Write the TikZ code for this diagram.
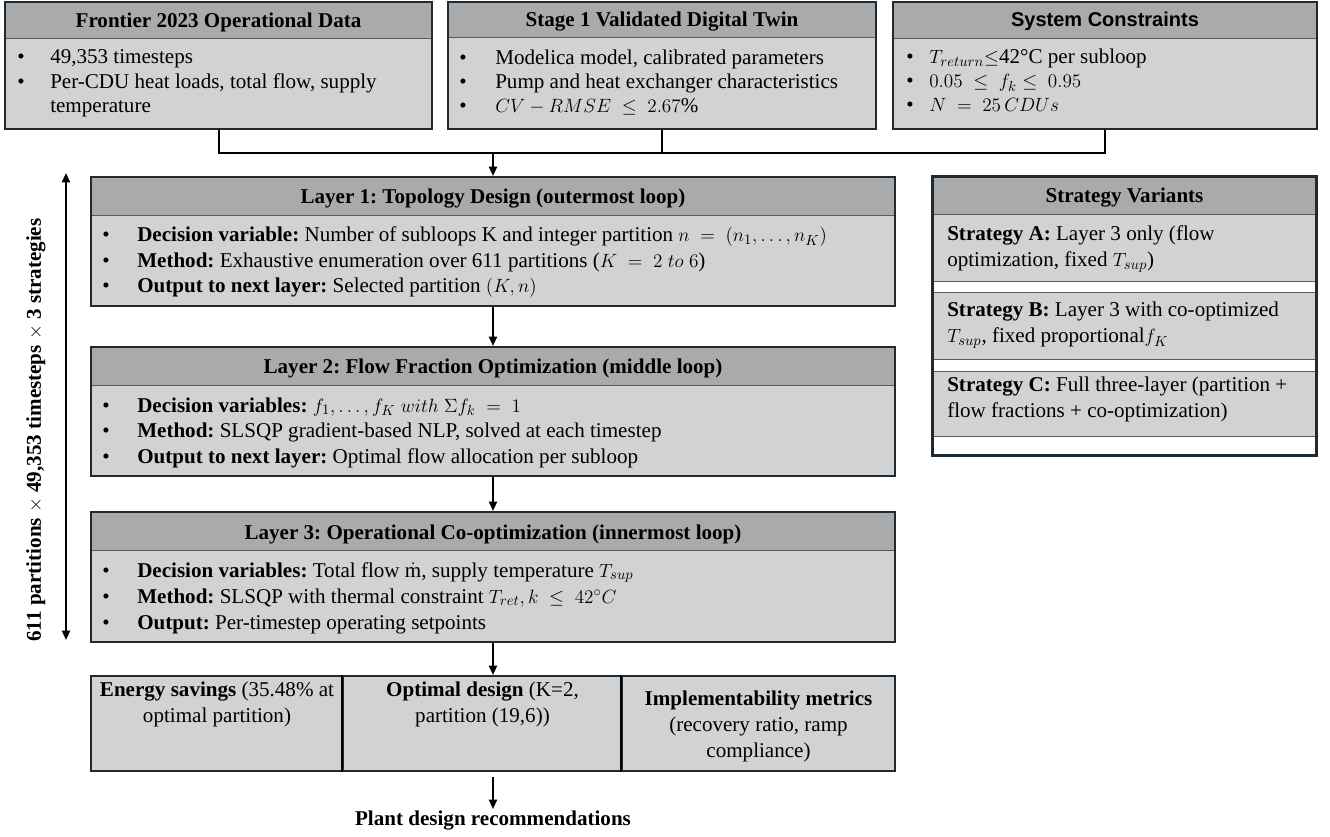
\documentclass[tikz,border=0pt]{standalone}
\usepackage{fontspec}
\setmainfont{Liberation Serif}
\newfontfamily\sansf{Liberation Sans}
\usetikzlibrary{arrows.meta,fit}
\definecolor{hdr}{RGB}{170,170,170}
\definecolor{bdy}{RGB}{210,210,210}
\definecolor{brd}{RGB}{30,42,54}
\definecolor{sepc}{RGB}{90,90,90}
\frenchspacing
\newcommand\bodysz{\fontsize{15.8}{18.5}\selectfont}
\tikzset{
  bodyst/.style={fill=bdy, draw=brd, line width=1.5pt, inner sep=0pt},
  headst/.style={fill=hdr, inner sep=0pt},
  titlest/.style={inner sep=0pt, anchor=base, font=\bodysz\bfseries},
  sepline/.style={draw=sepc, line width=0.8pt},
  conn/.style={draw=black, line width=1.5pt},
  arr/.style={conn, -{Triangle[length=7pt,width=6pt]}},
  txt/.style={inner sep=0pt, anchor=base west},
  bul/.style={inner sep=0pt, anchor=base},
  ctr/.style={inner sep=0pt, anchor=base},
}
\begin{document}
\begin{tikzpicture}[x=0.75pt, y=-0.75pt, font=\bodysz]
\useasboundingbox (0,0) rectangle (1330,837);

% ---------- top boxes ----------
\node[bodyst, fit={(5,2)(432,129)}] (F) {};
\node[headst, fit={(6,3)(431,38)}] (Fh) {};
\draw[sepline] (Fh.south west) -- (Fh.south east);
\node[titlest] (Ftit) at (218.5,28) {Frontier 2023 Operational Data};
\node[bul] (Fb1) at (21,64) {\textbullet};
\node[txt] (Ft1) at (50,64) {49,353 timesteps};
\node[bul] (Fb2) at (21,89) {\textbullet};
\node[txt] (Ft2) at (50,89) {Per-CDU heat loads, total flow, supply};
\node[txt] (Ft3) at (50,113) {temperature};

\node[bodyst, fit={(448,2)(876,129)}] (S) {};
\node[headst, fit={(449,3)(875,37)}] (Sh) {};
\draw[sepline] (Sh.south west) -- (Sh.south east);
\node[titlest] (Stit) at (662,27) {Stage 1 Validated Digital Twin};
\node[bul] (Sb1) at (463,65) {\textbullet};
\node[txt] (St1) at (495,65) {Modelica model, calibrated parameters};
\node[bul] (Sb2) at (463,89) {\textbullet};
\node[txt] (St2) at (495,89) {Pump and heat exchanger characteristics};
\node[bul] (Sb3) at (463,113) {\textbullet};
\node[txt] (St3) at (495,113) {$CV-RMSE\;\le\;2.67\%$};

\node[bodyst, fit={(893,2)(1317,129)}] (C) {};
\node[headst, fit={(894,3)(1316,38)}] (Ch) {};
\draw[sepline] (Ch.south west) -- (Ch.south east);
\node[titlest, font=\sansf\bfseries\fontsize{15}{18}\selectfont] (Ctit) at (1105,27) {System Constraints};
\node[bul] (Cb1) at (910,64) {\textbullet};
\node[txt] (Ct1) at (929,64) {$T_{return}$${\le}$42°C per subloop};
\node[bul] (Cb2) at (910,88) {\textbullet};
\node[txt] (Ct2) at (929,88) {$0.05\;\le\;f_k\le\;0.95$};
\node[bul] (Cb3) at (910,112) {\textbullet};
\node[txt] (Ct3) at (929,112) {$N\;=\;25\,CDUs$};

% ---------- layers ----------
\node[bodyst, fit={(91,177)(895,306)}] (L1) {};
\node[headst, fit={(92,178)(894,215)}] (L1h) {};
\draw[sepline] (L1h.south west) -- (L1h.south east);
\node[titlest] (L1tit) at (493,204) {Layer 1: Topology Design (outermost loop)};
\node[bul] (L1b1) at (106,242) {\textbullet};
\node[txt] (L1t1) at (137,242) {\textbf{Decision variable:} Number of subloops K and integer partition $n\;=\;(n_1,\ldots,n_K)$};
\node[bul] (L1b2) at (106,268) {\textbullet};
\node[txt] (L1t2) at (137,268) {\textbf{Method:} Exhaustive enumeration over 611 partitions ($K\;=\;2\;to\;6$)};
\node[bul] (L1b3) at (106,293) {\textbullet};
\node[txt] (L1t3) at (137,293) {\textbf{Output to next layer:} Selected partition $(K,n)$};

\node[bodyst, fit={(91,347)(895,476)}] (L2) {};
\node[headst, fit={(92,348)(894,385)}] (L2h) {};
\draw[sepline] (L2h.south west) -- (L2h.south east);
\node[titlest] (L2tit) at (493,374) {Layer 2: Flow Fraction Optimization (middle loop)};
\node[bul] (L2b1) at (106,412) {\textbullet};
\node[txt] (L2t1) at (137,412) {\textbf{Decision variables:} $f_1,\ldots,f_K\ with\ \Sigma f_k\;=\;1$};
\node[bul] (L2b2) at (106,437) {\textbullet};
\node[txt] (L2t2) at (137,437) {\textbf{Method:} SLSQP gradient-based NLP, solved at each timestep};
\node[bul] (L2b3) at (106,463) {\textbullet};
\node[txt] (L2t3) at (137,463) {\textbf{Output to next layer:} Optimal flow allocation per subloop};

\node[bodyst, fit={(91,512)(895,642)}] (L3) {};
\node[headst, fit={(92,513)(894,550)}] (L3h) {};
\draw[sepline] (L3h.south west) -- (L3h.south east);
\node[titlest] (L3tit) at (493,539) {Layer 3: Operational Co-optimization (innermost loop)};
\node[bul] (L3b1) at (106,577) {\textbullet};
\node[txt] (L3t1) at (137,577) {\textbf{Decision variables:} Total flow $\dot{\mathrm{m}}$, supply temperature $T_{sup}$};
\node[bul] (L3b2) at (106,603) {\textbullet};
\node[txt] (L3t2) at (137,603) {\textbf{Method:} SLSQP with thermal constraint $T_{ret},k\;\le\;42^\circ C$};
\node[bul] (L3b3) at (106,629) {\textbullet};
\node[txt] (L3t3) at (137,629) {\textbf{Output:} Per-timestep operating setpoints};

% ---------- strategy variants ----------
\node[bodyst, fill=white, fit={(933,177)(1316,455)}] (SV) {};
\node[headst, fit={(934,178)(1315,215)}] (SVh) {};
\node[titlest] (SVtit) at (1124.5,203) {Strategy Variants};
\node[fill=bdy, inner sep=0pt, fit={(934,215)(1315,281)}] (SA) {};
\node[fill=bdy, inner sep=0pt, fit={(934,293)(1315,359)}] (SB) {};
\node[fill=bdy, inner sep=0pt, fit={(934,372)(1315,436)}] (SC) {};
\draw[sepline] (SA.north west) -- (SA.north east);
\draw[sepline] (SA.south west) -- (SA.south east);
\draw[sepline] (SB.north west) -- (SB.north east);
\draw[sepline] (SB.south west) -- (SB.south east);
\draw[sepline] (SC.north west) -- (SC.north east);
\draw[sepline] (SC.south west) -- (SC.south east);
\node[txt] (SAt1) at (947,241) {\textbf{Strategy A:} Layer 3 only (flow};
\node[txt] (SAt2) at (947,267) {optimization, fixed $T_{sup}$)};
\node[txt] (SBt1) at (947,317) {\textbf{Strategy B:} Layer 3 with co-optimized};
\node[txt] (SBt2) at (947,343) {$T_{sup}$, fixed proportional$f_K$};
\node[txt] (SCt1) at (947,392) {\textbf{Strategy C:} Full three-layer (partition +};
\node[txt] (SCt2) at (947,417) {flow fractions + co-optimization)};
\draw[draw=brd, line width=1.5pt] (SV.north west) rectangle (SV.south east);

% ---------- results ----------
\node[bodyst, fit={(91,676)(343,771)}] (R1) {};
\node[bodyst, fit={(343,676)(622,771)}] (R2) {};
\node[bodyst, fit={(622,676)(895,771)}] (R3) {};
\draw[conn] (R2.north west) -- (R2.south west);
\draw[conn] (R3.north west) -- (R3.south west);
\node[ctr] (R1t1) at (217,696) {\textbf{Energy savings} (35.48\% at};
\node[ctr] (R1t2) at (217,722) {optimal partition)};
\node[ctr] (R2t1) at (482.5,696) {\textbf{Optimal design} (K=2,};
\node[ctr] (R2t2) at (482.5,722) {partition (19,6))};
\node[ctr] (R3t1) at (758.5,705) {\textbf{Implementability metrics}};
\node[ctr] (R3t2) at (758.5,731) {(recovery ratio, ramp};
\node[ctr] (R3t3) at (758.5,757) {compliance)};

\node[titlest] (P) at (493,825) {Plant design recommendations};

% ---------- connectors ----------
\coordinate (J) at (493,153);
\draw[conn] (F.south) -- (F.south |- J) -- (C.south |- J) -- (C.south);
\draw[conn] (S.south) -- (S.south |- J);
\draw[arr] (J) -- (L1.north);
\draw[arr] (L1.south) -- (L2.north);
\draw[arr] (L2.south) -- (L3.north);
\draw[arr] (L3.south) -- (L3.south |- R2.north);
\coordinate (Rb) at (493,777);
\coordinate (Pa) at (493,809);
\draw[arr] (Rb) -- (Pa);

% ---------- loop arrow ----------
\coordinate (LA) at (66,173);
\coordinate (LB) at (66,640);
\draw[conn, {Triangle[length=7pt,width=6pt]}-{Triangle[length=7pt,width=6pt]}] (LA) -- (LB);
\node[rotate=90, inner sep=0pt, font=\bodysz\bfseries] (LL) at (36,430) {611 partitions $\times$ 49,353 timesteps $\times$ 3 strategies};
\end{tikzpicture}
\end{document}
